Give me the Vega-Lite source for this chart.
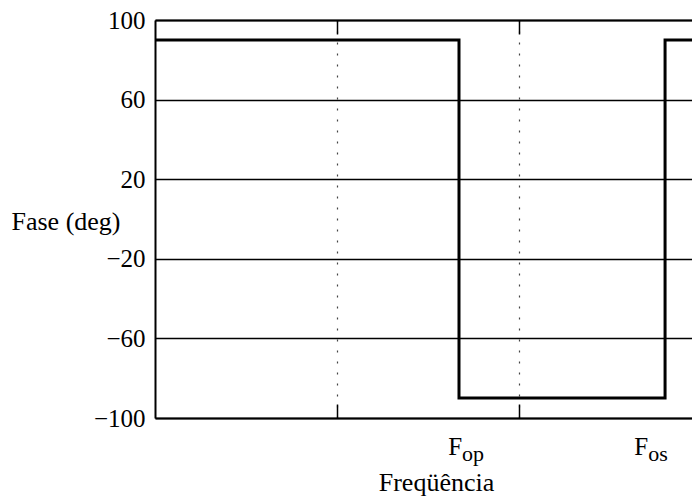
{
  "$schema": "https://vega.github.io/schema/vega-lite/v6.json",
  "width": 537,
  "height": 398,
  "autosize": {"type": "none"},
  "padding": {"left": 155, "top": 20, "right": 0, "bottom": 78},
  "background": "white",
  "config": {
    "view": {"stroke": null},
    "font": "Liberation Serif",
    "axis": {"labelFont": "Liberation Serif", "titleFont": "Liberation Serif", "labelColor": "black", "titleColor": "black", "domainColor": "black", "tickColor": "black", "titleFontWeight": "normal"}
  },
  "datasets": {
    "fase": [
      {"i": 0, "freq": 0, "fase": 90},
      {"i": 1, "freq": 1.67, "fase": 90},
      {"i": 2, "freq": 1.67, "fase": -90},
      {"i": 3, "freq": 2.802, "fase": -90},
      {"i": 4, "freq": 2.802, "fase": 90},
      {"i": 5, "freq": 2.95, "fase": 90}
    ],
    "marcas": [
      {"freq": 1.687, "nome": "F", "sub": "op", "fase": -100},
      {"freq": 2.709, "nome": "F", "sub": "os", "fase": -100}
    ]
  },
  "resolve": {"axis": {"x": "independent"}},
  "layer": [
    {
      "data": {"name": "fase"},
      "mark": {"type": "line", "color": "black", "strokeWidth": 3, "clip": true},
      "encoding": {
        "x": {
          "field": "freq", "type": "quantitative",
          "scale": {"domain": [0, 2.95], "nice": false, "zero": false},
          "axis": {
            "orient": "bottom", "values": [1, 2], "labels": false,
            "tickSize": -14, "tickWidth": 1.5, "domainWidth": 2,
            "grid": true, "gridDash": [2, 9], "gridColor": "#444", "gridWidth": 1.2,
            "title": "Freqüência", "titleFontSize": 26, "titleX": 281, "titleY": 72,
            "titleAlign": "center", "titleBaseline": "alphabetic"
          }
        },
        "y": {
          "field": "fase", "type": "quantitative",
          "scale": {"domain": [-100, 100], "nice": false},
          "axis": {
            "values": [100, 60, 20, -20, -60, -100],
            "tickSize": 0, "labelPadding": 10, "labelFontSize": 25,
            "domainWidth": 2, "grid": true, "gridColor": "black", "gridWidth": 1.3,
            "title": "Fase (deg)", "titleAngle": 0, "titleFontSize": 26,
            "titleAlign": "right", "titleBaseline": "middle", "titleX": -35, "titleY": 201
          }
        },
        "order": {"field": "i", "type": "quantitative"}
      }
    },
    {
      "data": {"name": "marcas"},
      "mark": {"type": "text", "fontSize": 25, "align": "right", "baseline": "alphabetic", "dy": 37, "color": "black", "font": "Liberation Serif"},
      "encoding": {
        "x": {
          "field": "freq", "type": "quantitative",
          "axis": {
            "orient": "top", "values": [1, 2], "labels": false,
            "tickSize": -14, "tickWidth": 1.5, "domainWidth": 2,
            "grid": false, "title": null
          }
        },
        "y": {"field": "fase", "type": "quantitative"},
        "text": {"field": "nome"}
      }
    },
    {
      "data": {"name": "marcas"},
      "mark": {"type": "text", "fontSize": 22, "align": "left", "baseline": "alphabetic", "dy": 43, "color": "black", "font": "Liberation Serif"},
      "encoding": {
        "x": {"field": "freq", "type": "quantitative", "axis": null},
        "y": {"field": "fase", "type": "quantitative"},
        "text": {"field": "sub"}
      }
    }
  ]
}
